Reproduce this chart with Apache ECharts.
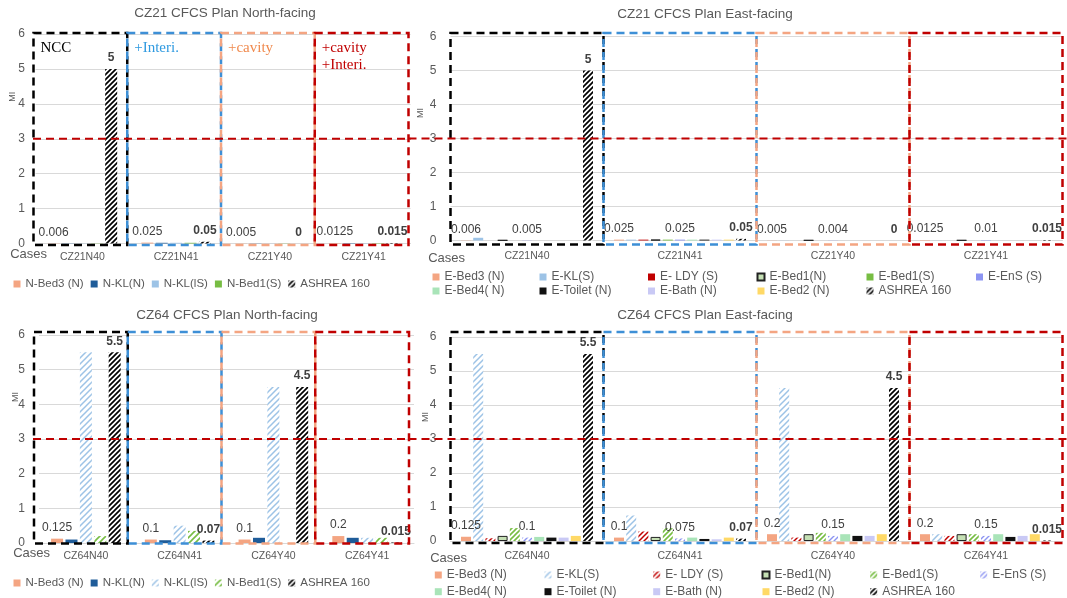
<!DOCTYPE html>
<html>
<head>
<meta charset="utf-8">
<script src="https://cdn.jsdelivr.net/npm/echarts@6/dist/echarts.min.js"></script>
<style>
  html, body { margin: 0; padding: 0; background: #ffffff; }
  #page { position: relative; width: 1067px; height: 598px; overflow: hidden; background: #ffffff; }
  .panel { position: absolute; }
</style>
</head>
<body>
<div id="page">
  <div id="tl" class="panel" style="left:0;top:0;width:420px;height:300px"></div>
  <div id="bl" class="panel" style="left:0;top:300px;width:420px;height:298px"></div>
  <div id="tr" class="panel" style="left:405px;top:0;width:662px;height:300px"></div>
  <div id="br" class="panel" style="left:405px;top:300px;width:662px;height:298px"></div>
</div>
<script>
// ---------- categories and tick range ----------
const casesCZ21 = ['CZ21N40', 'CZ21N41', 'CZ21Y40', 'CZ21Y41'];
const casesCZ64 = ['CZ64N40', 'CZ64N41', 'CZ64Y40', 'CZ64Y41'];
const miMin = 0;
const miMax = 6;
const miStep = 1;
const thresholdMI = 3;
const caseGroups = ['NCC', '+Interi.', '+cavity', '+cavity\n+Interi.'];

// ---------- room names ----------
const northRooms = ['N-Bed3 (N)', 'N-KL(N)', 'N-KL(lS)', 'N-Bed1(S)', 'ASHREA 160'];
const eastRooms = ['E-Bed3 (N)', 'E-KL(S)', 'E- LDY (S)', 'E-Bed1(N)', 'E-Bed1(S)', 'E-EnS (S)',
                   'E-Bed4( N)', 'E-Toilet (N)', 'E-Bath (N)', 'E-Bed2 (N)', 'ASHREA 160'];

// ---------- MI values, CZ21 north-facing ----------
const cz21N_bed3   = [0.006, 0.025, 0.005, 0.0125];
const cz21N_klN    = [0.006, 0.02, 0.005, 0.01];
const cz21N_klS    = [0.005, 0.02, 0.004, 0.01];
const cz21N_bed1S  = [0.006, 0.02, 0.005, 0.01];
const cz21N_ashrae = [5, 0.05, 0, 0.015];

// ---------- MI values, CZ21 east-facing ----------
const cz21E_bed3   = [0.006, 0.025, 0.005, 0.0125];
const cz21E_klS    = [0.08, 0.025, 0.003, 0.003];
const cz21E_ldyS   = [0, 0.025, 0, 0];
const cz21E_bed1N  = [0.01, 0.025, 0.01, 0.01];
const cz21E_bed1S  = [0, 0.025, 0, 0];
const cz21E_ensS   = [0.005, 0.025, 0.004, 0.01];
const cz21E_bed4N  = [0, 0.025, 0, 0];
const cz21E_toilet = [0, 0.025, 0, 0];
const cz21E_bath   = [0, 0.025, 0, 0];
const cz21E_bed2N  = [0, 0.025, 0, 0];
const cz21E_ashrae = [5, 0.05, 0, 0.015];

// ---------- MI values, CZ64 north-facing ----------
const cz64N_bed3   = [0.125, 0.1, 0.1, 0.2];
const cz64N_klN    = [0.1, 0.08, 0.15, 0.15];
const cz64N_klS    = [5.5, 0.5, 4.5, 0.15];
const cz64N_bed1S  = [0.2, 0.35, 0, 0.15];
const cz64N_ashrae = [5.5, 0.07, 4.5, 0.015];

// ---------- MI values, CZ64 east-facing ----------
const cz64E_bed3   = [0.125, 0.1, 0.2, 0.2];
const cz64E_klS    = [5.5, 0.75, 4.5, 0.2];
const cz64E_ldyS   = [0.08, 0.28, 0.1, 0.15];
const cz64E_bed1N  = [0.15, 0.12, 0.2, 0.2];
const cz64E_bed1S  = [0.38, 0.38, 0.24, 0.2];
const cz64E_ensS   = [0.1, 0.075, 0.15, 0.15];
const cz64E_bed4N  = [0.12, 0.1, 0.2, 0.2];
const cz64E_toilet = [0.1, 0.06, 0.15, 0.12];
const cz64E_bath   = [0.1, 0.05, 0.15, 0.15];
const cz64E_bed2N  = [0.15, 0.1, 0.2, 0.2];
const cz64E_ashrae = [5.5, 0.07, 4.5, 0.015];

// ---------- styling helpers ----------
const FONT = '"Liberation Sans", Arial, sans-serif';
const GREY = '#595959';
const boxColors = ['#000000', '#3d8fd6', '#f4a582', '#c00000'];
const noteColors = ['#000000', '#2f9ae0', '#f08a4e', '#c00000'];

// diagonal "////" hatch fill as a repeating canvas pattern
function hatch(color, bg, size, lw) {
  const c = document.createElement('canvas');
  c.width = size; c.height = size;
  const g = c.getContext('2d');
  if (bg) { g.fillStyle = bg; g.fillRect(0, 0, size, size); }
  g.strokeStyle = color; g.lineWidth = lw;
  g.beginPath();
  g.moveTo(-1, size + 1); g.lineTo(size + 1, -1);
  g.moveTo(-1, 1); g.lineTo(1, -1);
  g.moveTo(size - 1, size + 1); g.lineTo(size + 1, size - 1);
  g.stroke();
  return { image: c, repeat: 'repeat' };
}

const cSalmon = '#f4a582', cNavy = '#1f5c99', cSky = '#9dc3e6', cGreen = '#77bd43';
const cRed = '#c00000', cPeri = '#8c94f2', cMint = '#a9e4b8', cBlack = '#111111';
const cLav = '#c9c9f5', cYellow = '#ffd966', cPaleGreen = '#c5e0b4';
const ashraeFill = hatch('#000000', '#ffffff', 5, 1.7);

const northStylesSolid = [
  { color: cSalmon }, { color: cNavy }, { color: cSky }, { color: cGreen }, { color: ashraeFill }
];
const northStylesHatched = [
  { color: cSalmon }, { color: cNavy }, { color: hatch(cSky, '#ffffff', 6, 1.5) },
  { color: hatch(cGreen, '#ffffff', 6, 1.6) }, { color: ashraeFill }
];
const eastStylesSolid = [
  { color: cSalmon }, { color: cSky }, { color: cRed }, { color: cPaleGreen, border: '#222222' },
  { color: cGreen }, { color: cPeri }, { color: cMint }, { color: cBlack }, { color: cLav },
  { color: cYellow }, { color: ashraeFill }
];
const eastStylesHatched = [
  { color: cSalmon }, { color: hatch(cSky, '#ffffff', 6, 1.5) }, { color: hatch(cRed, '#ffffff', 5, 1.5) },
  { color: cPaleGreen, border: '#222222' }, { color: hatch(cGreen, '#ffffff', 5, 1.6) },
  { color: hatch(cPeri, '#ffffff', 5, 1.4) }, { color: cMint }, { color: cBlack }, { color: cLav },
  { color: cYellow }, { color: ashraeFill }
];
// which series carry value labels
const northLabels = ['plain', null, null, null, 'bold'];
const eastLabels = ['plain', null, null, null, null, 'plain', null, null, null, null, 'bold'];
const eastLegendColumns = [[0, 6], [1, 7], [2, 8], [3, 9], [4, 10], [5]];

// dashed frame around each case band (plus optional group note)
function boxRenderer(p) {
  return function (params, api) {
    const i = api.value(0);
    const band = api.size([1, 0])[0];
    const base = api.coord([i, miMin]);
    const top = api.coord([i, miMax])[1];
    const x0 = base[0] - band / 2 + p.boxShift;
    const y0 = top - p.boxPad[0];
    const y1 = base[1] + p.boxPad[1];
    const children = [{
      type: 'rect', silent: true,
      shape: { x: x0, y: y0, width: band, height: y1 - y0 },
      style: { fill: 'none', stroke: boxColors[i], lineWidth: 2.5, lineDash: [8, 5] }
    }];
    if (p.notes) {
      children.push({
        type: 'text', silent: true, x: x0 + 7, y: y0 + 7,
        style: { text: p.notes[i], fill: noteColors[i], font: '15px "Liberation Serif", serif',
                 lineHeight: 17, verticalAlign: 'top', align: 'left' }
      });
    }
    return { type: 'group', children: children };
  };
}

// red dashed MI threshold across the panel
function thresholdRenderer(p) {
  return function (params, api) {
    const cs = params.coordSys;
    const y = api.coord([0, api.value(1)])[1];
    return {
      type: 'line', silent: true,
      shape: { x1: cs.x + p.lineExt[0], y1: y, x2: cs.x + cs.width + p.lineExt[1], y2: y },
      style: { stroke: '#c00000', lineWidth: 2, lineDash: [8, 5] }
    };
  };
}

function buildOption(p) {
  const series = p.names.map(function (name, k) {
    const st = p.styles[k];
    const lab = p.labels[k];
    return {
      name: name, type: 'bar', data: p.values[k],
      barWidth: p.barWidth, barGap: p.barGap,
      itemStyle: { color: st.color, borderColor: st.border || 'rgba(0,0,0,0)', borderWidth: st.border ? 1 : 0 },
      label: lab ? {
        show: true, position: 'top', distance: 5, fontSize: 12, fontFamily: FONT,
        color: '#404040', fontWeight: lab === 'bold' ? 'bold' : 'normal'
      } : { show: false },
      emphasis: { disabled: true }
    };
  });
  series.push({
    type: 'custom', z: 5, data: p.cases.map(function (c, i) { return [i]; }),
    renderItem: boxRenderer(p), silent: true
  });
  series.push({
    type: 'custom', z: 6, data: [[0, thresholdMI]],
    renderItem: thresholdRenderer(p), silent: true
  });

  let legend;
  if (p.legendCols) {
    legend = eastLegendColumns.map(function (col, j) {
      return {
        data: col.map(function (k) { return p.names[k]; }),
        orient: 'vertical', left: p.legendCols[j], top: p.legendTop,
        itemWidth: 7, itemHeight: 7, itemGap: p.legendGap, icon: 'rect', padding: 0,
        textStyle: { fontSize: 12, color: GREY, fontFamily: FONT }
      };
    });
  } else {
    legend = [{
      data: p.names, left: p.legendLeft, top: p.legendTop,
      itemWidth: 7, itemHeight: 7, itemGap: p.legendGap, icon: 'rect', padding: 0,
      textStyle: { fontSize: 11.5, color: GREY, fontFamily: FONT }
    }];
  }

  return {
    animation: false,
    backgroundColor: 'transparent',
    textStyle: { fontFamily: FONT },
    title: [{
      text: p.title, left: p.titleX, top: p.titleTop, textAlign: 'center', padding: 0,
      textStyle: { fontSize: 13.5, fontWeight: 'normal', color: GREY, fontFamily: FONT }
    }],
    legend: legend,
    grid: {
      left: p.grid[0], top: p.grid[1], width: p.grid[2], height: p.grid[3],
      containLabel: false, outerBoundsMode: 'none'
    },
    xAxis: {
      type: 'category', data: p.cases,
      name: 'Cases', nameLocation: 'start', nameGap: p.casesGap, nameMoveOverlap: false,
      nameTextStyle: {
        fontSize: 13, color: GREY, fontFamily: FONT,
        verticalAlign: 'top', padding: [p.casesPad, 0, 0, 0]
      },
      axisLine: { show: true, lineStyle: { color: '#d9d9d9' } },
      axisTick: { show: false },
      axisLabel: { fontSize: 10.5, color: GREY, margin: p.xLabelMargin, fontFamily: FONT }
    },
    yAxis: {
      type: 'value', min: miMin, max: miMax, interval: miStep,
      name: 'MI', nameLocation: 'middle', nameRotate: 90, nameGap: p.miGap, nameMoveOverlap: false,
      nameTextStyle: { fontSize: 9, color: GREY, fontFamily: FONT, padding: [0, 0, 0, p.miPad] },
      axisLine: { show: false }, axisTick: { show: false },
      splitLine: { lineStyle: { color: '#d9d9d9', width: 1 } },
      axisLabel: { fontSize: 12, color: GREY, margin: p.yLabelMargin, fontFamily: FONT }
    },
    series: series
  };
}

const panels = [
  {
    el: 'tl', title: 'CZ21 CFCS Plan North-facing', cases: casesCZ21, names: northRooms,
    values: [cz21N_bed3, cz21N_klN, cz21N_klS, cz21N_bed1S, cz21N_ashrae],
    styles: northStylesSolid, labels: northLabels, barWidth: 12, barGap: '20%',
    grid: [35.5, 34, 375, 209.5], titleX: 225, titleTop: 6.5,
    yLabelMargin: 10.5, xLabelMargin: 8.5, casesGap: -11.5, casesPad: 4.5, miGap: 18, miPad: 84,
    legendLeft: 13.5, legendTop: 278, legendGap: 7,
    boxShift: -2, boxPad: [1, 1.5], lineExt: [-2.5, 0], notes: caseGroups
  },
  {
    el: 'tr', title: 'CZ21 CFCS Plan East-facing', cases: casesCZ21, names: eastRooms,
    values: [cz21E_bed3, cz21E_klS, cz21E_ldyS, cz21E_bed1N, cz21E_bed1S, cz21E_ensS,
             cz21E_bed4N, cz21E_toilet, cz21E_bath, cz21E_bed2N, cz21E_ashrae],
    styles: eastStylesSolid, labels: eastLabels, barWidth: 10, barGap: '22%',
    grid: [45.5, 36.5, 612, 204], titleX: 300, titleTop: 7.5,
    yLabelMargin: 14, xLabelMargin: 10, casesGap: -14.5, casesPad: 11, miGap: 25, miPad: 51,
    legendCols: [27.5, 134.5, 243, 351.5, 461.5, 571], legendTop: 271, legendGap: 2,
    boxShift: 0, boxPad: [3.5, 4], lineExt: [-42, 5], notes: null
  },
  {
    el: 'bl', title: 'CZ64 CFCS Plan North-facing', cases: casesCZ64, names: northRooms,
    values: [cz64N_bed3, cz64N_klN, cz64N_klS, cz64N_bed1S, cz64N_ashrae],
    styles: northStylesHatched, labels: northLabels, barWidth: 12, barGap: '20%',
    grid: [39, 35, 375, 208], titleX: 227, titleTop: 8.5,
    yLabelMargin: 14, xLabelMargin: 8, casesGap: -11, casesPad: 4, miGap: 18.5, miPad: 84,
    legendLeft: 13.5, legendTop: 277, legendGap: 7,
    boxShift: -5, boxPad: [3, 0.5], lineExt: [-6, -4], notes: null
  },
  {
    el: 'br', title: 'CZ64 CFCS Plan East-facing', cases: casesCZ64, names: eastRooms,
    values: [cz64E_bed3, cz64E_klS, cz64E_ldyS, cz64E_bed1N, cz64E_bed1S, cz64E_ensS,
             cz64E_bed4N, cz64E_toilet, cz64E_bath, cz64E_bed2N, cz64E_ashrae],
    styles: eastStylesHatched, labels: eastLabels, barWidth: 10, barGap: '22%',
    grid: [45.5, 37, 612, 204], titleX: 300, titleTop: 8.5,
    yLabelMargin: 14, xLabelMargin: 10, casesGap: -16.5, casesPad: 11, miGap: 20, miPad: 44,
    legendCols: [29.8, 139.5, 248.2, 356.5, 465.2, 575.2], legendTop: 269, legendGap: 4.7,
    boxShift: 0, boxPad: [5, 2], lineExt: [-42, 5], notes: null
  }
];

panels.forEach(function (p) {
  const chart = echarts.init(document.getElementById(p.el), null, { renderer: 'canvas' });
  chart.setOption(buildOption(p));
});
</script>
</body>
</html>
